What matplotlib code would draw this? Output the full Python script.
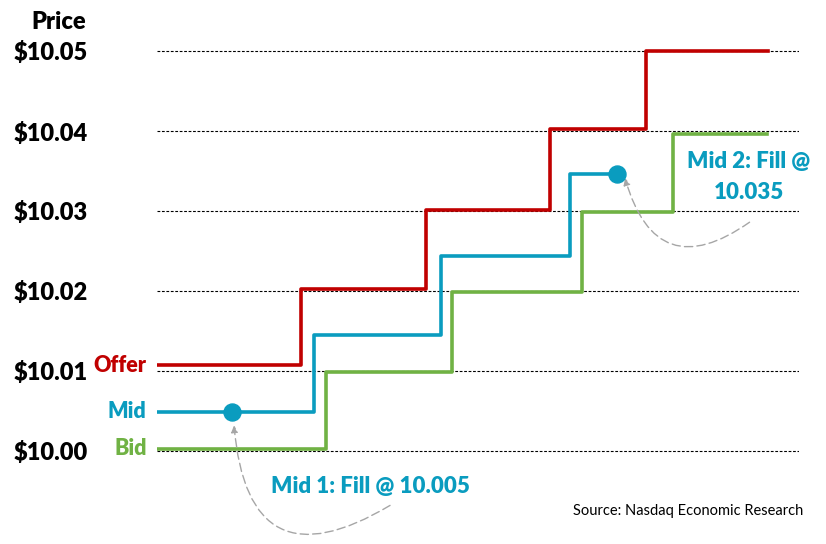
import matplotlib.pyplot as plt

# price levels (y) and step times (x, arbitrary units 0-100)
price_ticks = [10.00, 10.01, 10.02, 10.03, 10.04, 10.05]
price_labels = ['$10.00', '$10.01', '$10.02', '$10.03', '$10.04', '$10.05']

offer_times = [0, 22.5, 41.9, 61.2, 76.1, 95.2]
offer_prices = [10.0107, 10.0203, 10.0301, 10.0403, 10.0500]

mid_times = [0, 24.5, 44.3, 64.3, 71.7]
mid_prices = [10.0049, 10.0145, 10.0244, 10.0346]

bid_times = [0, 26.3, 45.9, 66.2, 80.3, 95.0]
bid_prices = [10.0003, 10.0099, 10.0199, 10.0299, 10.0396]

fill_times = [11.7, 71.7]
fill_prices = [10.0049, 10.0346]

red = '#C00000'
teal = '#0A9CBF'
green = '#70B244'
font = 'Lato'
wt = 'heavy'

fig = plt.figure(figsize=(8.26, 5.44), dpi=100)
ax = fig.add_axes([157 / 826, 53 / 544, 642 / 826, 480 / 544])
ax.set_xlim(0, 100)
ax.set_ylim(9.995, 10.055)

# dotted gridlines
for p in price_ticks:
    ax.axhline(p, color='black', lw=0.8, ls=(0, (2.5, 1.5)), zorder=1)

# step lines
ax.step(offer_times, offer_prices + offer_prices[-1:], where='post', color=red, lw=2.6, zorder=3)
ax.step(mid_times, mid_prices + mid_prices[-1:], where='post', color=teal, lw=2.6, zorder=3)
ax.step(bid_times, bid_prices + bid_prices[-1:], where='post', color=green, lw=2.6, zorder=3)
ax.scatter(fill_times, fill_prices, s=150, color=teal, zorder=4)

# series labels
for name, y, c in [('Offer', offer_prices[0], red), ('Mid', mid_prices[0], teal), ('Bid', bid_prices[0], green)]:
    ax.text(-1.6, y, name, color=c, fontsize=15.5, fontweight=wt, family=font,
            ha='right', va='center', clip_on=False)

ax.set_yticks(price_ticks)
ax.set_yticklabels(price_labels, fontsize=17, fontweight=wt, family=font)
ax.tick_params(axis='y', length=0, pad=50)
ax.set_xticks([])
for s in ax.spines.values():
    s.set_visible(False)

fig.text(86 / 826, 1 - 22 / 544, 'Price', fontsize=17, fontweight=wt, family=font,
         ha='right', va='center')

# fill annotations
ax.text(33.2, 9.9955, 'Mid 1: Fill @ 10.005', color=teal, fontsize=16, fontweight=wt,
        family=font, ha='center', va='center')
ax.text(92.2, 10.0342, 'Mid 2: Fill @\n10.035', color=teal, fontsize=16, fontweight=wt,
        family=font, ha='center', va='center', linespacing=1.6, clip_on=False)

arrow_kw = dict(arrowstyle='-|>', color='#A6A6A6', lw=1.0, ls=(0, (6, 3)),
                mutation_scale=10, shrinkA=0, shrinkB=0)
ax.annotate('', xy=(fill_times[0] + 0.3, fill_prices[0] - 0.0017),
            xytext=(36.3, 9.9932),
            arrowprops=dict(connectionstyle='arc3,rad=-0.8', **arrow_kw), annotation_clip=False)
ax.annotate('', xy=(fill_times[1] + 1.2, fill_prices[1] - 0.0005),
            xytext=(92.3, 10.0286),
            arrowprops=dict(connectionstyle='arc3,rad=-0.7', **arrow_kw), annotation_clip=False)

fig.text(803 / 826, 1 - 511 / 544, 'Source: Nasdaq Economic Research', fontsize=10.5,
         family=font, ha='right', va='center')

fig.savefig('out.png', dpi=100)
